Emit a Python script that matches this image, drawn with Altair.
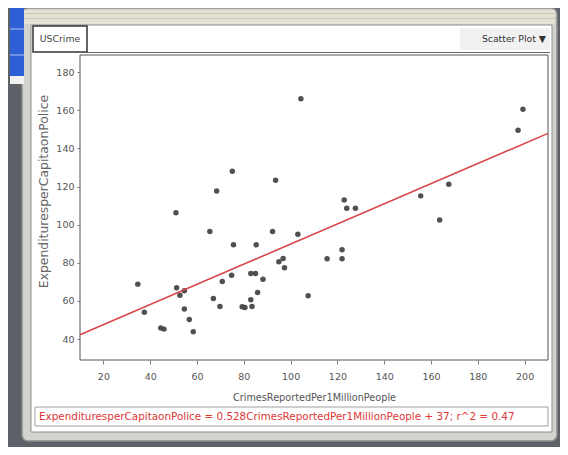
import altair as alt
import pandas as pd

# ---- data ----
crimes = [104.4, 199.3, 197.2, 75.1, 93.6, 68.4, 51.0, 122.9, 124.0, 127.7, 155.6, 167.6,
          163.7, 65.5, 92.3, 103.1, 75.6, 85.3, 95.0, 96.8, 97.4, 115.6, 122.0, 122.0,
          34.7, 37.5, 44.5, 45.9, 51.3, 52.7, 54.6, 54.6, 56.7, 58.4, 67.0, 69.8, 70.8,
          74.8, 79.3, 80.5, 83.0, 83.5, 83.0, 85.0, 85.9, 88.2, 107.5]
expend = [166.1, 160.5, 149.5, 128.0, 123.3, 117.7, 106.2, 113.0, 108.6, 108.6, 115.1, 121.2,
          102.5, 96.4, 96.4, 95.0, 89.4, 89.4, 80.5, 82.3, 77.4, 82.1, 86.8, 82.1,
          68.8, 54.1, 45.8, 45.2, 66.9, 63.0, 65.3, 55.7, 50.3, 43.8, 61.3, 57.1, 70.2,
          73.5, 56.9, 56.6, 60.6, 57.1, 74.4, 74.4, 64.4, 71.4, 62.7]
x_ticks = [20, 40, 60, 80, 100, 120, 140, 160, 180, 200]
y_ticks = [40, 60, 80, 100, 120, 140, 160, 180]
x_domain = [10, 210]
y_domain = [29, 189]
slope = 0.528
intercept = 37
r2 = 0.47
x_name = "CrimesReportedPer1MillionPeople"
y_name = "ExpendituresperCapitaonPolice"
collection = "USCrime"
plot_type = "Scatter Plot \u25BC"
equation = f"{y_name} = {slope}{x_name} + {intercept}; r^2 = {r2}"

FONT = "DejaVu Sans"
W, H = 468, 305

pts = pd.DataFrame({x_name: crimes, y_name: expend})
line_df = pd.DataFrame({x_name: x_domain, y_name: [slope * v + intercept for v in x_domain]})
one = pd.DataFrame({"a": [0]})


def box(x, x2, y, y2, **kw):
    return alt.Chart(one).mark_rect(**kw).encode(
        x=alt.value(x), x2=alt.value(x2), y=alt.value(y), y2=alt.value(y2))


def label(txt, x, y, **kw):
    return alt.Chart(one).mark_text(text=txt, font=FONT, **kw).encode(
        x=alt.value(x), y=alt.value(y))


xs = alt.Scale(domain=x_domain, nice=False, zero=False)
ys = alt.Scale(domain=y_domain, nice=False, zero=False)

x_axis = alt.Axis(values=x_ticks, tickSize=4, tickColor="#777", domain=False, grid=False,
                  labelFont=FONT, labelFontSize=9.5, labelColor="#555", labelPadding=7,
                  titleFont=FONT, titleFontSize=9.7, titleFontWeight="normal",
                  titleColor="#555", titlePadding=12, zindex=1)
y_axis = alt.Axis(values=y_ticks, tickSize=3, tickColor="#777", domain=False, grid=False,
                  labelFont=FONT, labelFontSize=9.5, labelColor="#555", labelPadding=3,
                  titleFont=FONT, titleFontSize=12.4, titleFontWeight="normal",
                  titleColor="#666", titleX=-37, titleY=136, titleAlign="center",
                  titleBaseline="middle", titleAngle=270, zindex=1)

frame = box(-58, 477, -47, 386, fill="#d3d3cd", stroke="#8c8c8c", strokeWidth=1.5, cornerRadius=6)
titlebar = box(-56, 475, -45, -31, fill="#e2e1d3")
bar_l1 = box(-56, 475, -42, -41, fill="#c9c8b8")
bar_l2 = box(-56, 475, -37, -36, fill="#c9c8b8")
blue = box(-70, -56, -47, 21, fill="#2f5fd6")
blue_g1 = box(-70, -56, -27, -25, fill="#6f8fe4")
blue_g2 = box(-70, -56, -1, 1, fill="#6f8fe4")
blue_w = box(-70, -56, 21, 29, fill="#f2f2f2")
panel = box(-49, 472, -30, 377, fill="white", stroke="#8f8f8f", strokeWidth=1)
header_line = box(7, 470, -3, -2, fill="#666")
tab = box(-47, 7, -29, -3, fill="white", stroke="#333", strokeWidth=1.5)
sp_box = box(380, 470, -27, -5, fill="#f1f1f1")
plot_rect = box(0, W, 0, H, fill="white", stroke="#555", strokeWidth=1)
eq_box = box(-45, 468, 352, 371, fill="white", stroke="#a0a0a0", strokeWidth=1)

points = alt.Chart(pts).mark_circle(size=30, color="#474747", opacity=0.95).encode(
    x=alt.X(f"{x_name}:Q", scale=xs, axis=x_axis),
    y=alt.Y(f"{y_name}:Q", scale=ys, axis=y_axis),
)
fit = alt.Chart(line_df).mark_line(color="#d9474b", strokeWidth=1.6).encode(
    x=alt.X(f"{x_name}:Q", scale=xs),
    y=alt.Y(f"{y_name}:Q", scale=ys),
)

t_tab = label(collection, -20, -16, fontSize=9.3, color="#444", align="center", baseline="middle")
t_sp = label(plot_type, 466, -16, fontSize=9.3, color="#333", align="right", baseline="middle")
t_eq = label(equation, -41, 362, fontSize=10.4, color="#e03838", align="left", baseline="middle")

chart = alt.layer(
    frame, titlebar, bar_l1, bar_l2, blue, blue_g1, blue_g2, blue_w, panel,
    header_line, tab, sp_box, plot_rect, eq_box, points, fit, t_tab, t_sp, t_eq
).properties(
    width=W, height=H,
    autosize=alt.AutoSizeParams(type="none"),
    padding={"left": 72, "top": 47, "right": 12, "bottom": 87},
    background="#5d6168",
).configure_view(strokeWidth=0)

chart.save("out.html", embed_options={"renderer": "svg", "actions": False})
